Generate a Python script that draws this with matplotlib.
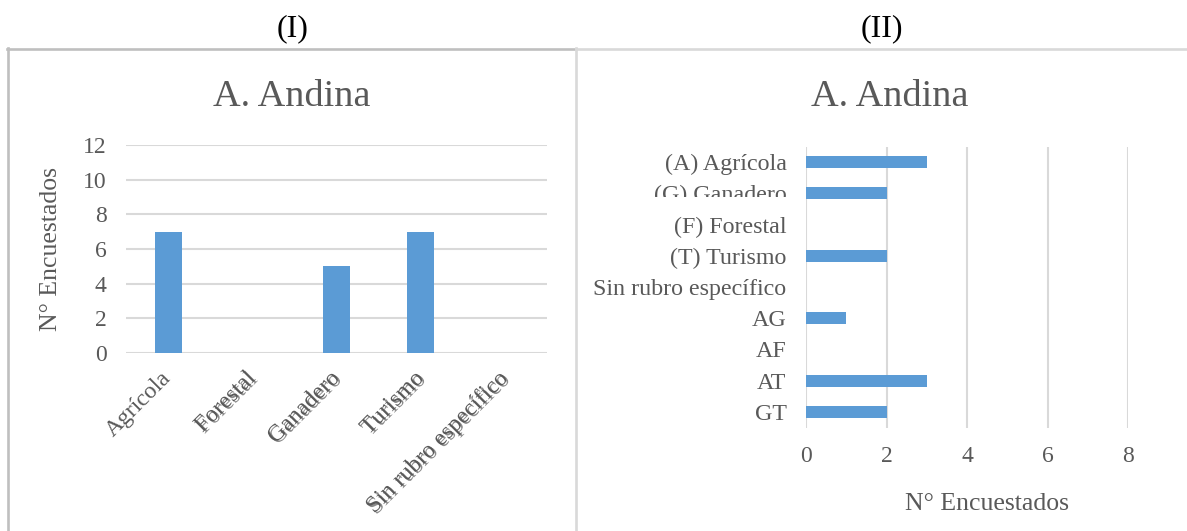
import matplotlib
matplotlib.use("Agg")
import matplotlib.pyplot as plt
from matplotlib.lines import Line2D
from matplotlib.transforms import Bbox, TransformedBbox
import matplotlib.patheffects as pe

plt.rcParams['font.family'] = ['Liberation Serif', 'DejaVu Serif']

# ---- data ----
left_categories = ["Agrícola", "Forestal", "Ganadero", "Turismo", "Sin rubro específico"]
left_values = [7, 0, 5, 7, 0]
left_yticks = [0, 2, 4, 6, 8, 10, 12]

right_categories = ["(A) Agrícola", "(G) Ganadero", "(F) Forestal", "(T) Turismo",
                    "Sin rubro específico", "AG", "AF", "AT", "GT"]
right_values = [3, 2, 0, 2, 0, 1, 0, 3, 2]
right_xticks = [0, 2, 4, 6, 8]

panel_titles = ["(I)", "(II)"]
chart_title = "A. Andina"
axis_label = "N° Encuestados"

BAR = "#5B9BD5"
GRID = "#D9D9D9"
TXT = "#595959"

W, H = 1187, 531
fig = plt.figure(figsize=(W / 100, H / 100), dpi=100)
fig.patch.set_facecolor("white")

def fx(px):
    return px / W

def fy(py):
    return 1 - py / H

# ---- panel borders ----
fig.add_artist(Line2D([fx(7.5), fx(7.5)], [fy(48), fy(531)], color="#BFBFBF", lw=1.9))
fig.add_artist(Line2D([fx(7), fx(576)], [fy(48.5), fy(48.5)], color="#BFBFBF", lw=1.9))
fig.add_artist(Line2D([fx(576), fx(576)], [fy(48), fy(531)], color=GRID, lw=1.9))
fig.add_artist(Line2D([fx(576), fx(1186)], [fy(48.5), fy(48.5)], color=GRID, lw=1.9))

# ---- headers ----
fig.text(fx(293), fy(29), panel_titles[0], ha="center", va="center", fontsize=23, color="black")
fig.text(fx(882), fy(29), panel_titles[1], ha="center", va="center", fontsize=23, color="black")
fig.text(fx(292), fy(97), chart_title, ha="center", va="center", fontsize=27.5, color=TXT)
fig.text(fx(890), fy(97), chart_title, ha="center", va="center", fontsize=27.5, color=TXT)

# ---- left chart ----
axL = fig.add_axes([fx(126), fy(353), fx(547) - fx(126), fy(145) - fy(353)])
xpos = list(range(len(left_categories)))
axL.bar(xpos, left_values, width=0.32, color=BAR, zorder=3)
axL.set_xlim(-0.5, len(left_categories) - 0.5)
axL.set_ylim(0, 12)
axL.set_yticks(left_yticks)
axL.yaxis.grid(True, color=GRID, lw=1.5, zorder=0)
axL.set_axisbelow(True)
for s in axL.spines.values():
    s.set_visible(False)
axL.tick_params(axis="y", length=0, colors=TXT, labelsize=17, pad=14)
axL.set_xticks(xpos)
axL.set_xticklabels(left_categories, rotation=45, ha="right", va="center",
                    rotation_mode="anchor")
axL.tick_params(axis="x", length=0, colors=TXT, labelsize=17, pad=16)
for i, lbl in enumerate(axL.get_xticklabels()):
    lbl.set_color(TXT)
    if i > 0:
        lbl.set_path_effects([pe.withSimplePatchShadow(offset=(1.5, -1.0),
                                                       shadow_rgbFace="#666666", alpha=0.75)])
axL.set_ylabel(axis_label, fontsize=18.5, color=TXT)
axL.yaxis.set_label_coords(-(126 - 62) / 421, 0.5)

# ---- right chart ----
axR = fig.add_axes([fx(806), fy(427.5), fx(1128) - fx(806), fy(146.5) - fy(427.5)])
ypos = list(range(len(right_categories)))
axR.barh(ypos, right_values, height=0.38, color=BAR, zorder=3)
axR.set_ylim(len(right_categories) - 0.5, -0.5)
axR.set_xlim(0, 8)
axR.set_xticks(right_xticks)
axR.set_yticks(ypos)
axR.set_yticklabels(right_categories)
axR.xaxis.grid(True, color=GRID, lw=1.5, zorder=0)
axR.set_axisbelow(True)
for s in axR.spines.values():
    s.set_visible(False)
axR.tick_params(axis="y", length=0, colors=TXT, labelsize=17.3, pad=14)
axR.tick_params(axis="x", length=0, colors=TXT, labelsize=17, pad=13)
axR.set_xlabel(axis_label, fontsize=18.5, color=TXT)
axR.xaxis.set_label_coords((987 - 806) / 322, -(493 - 427.5) / 281)

# clipped "(G) Ganadero" label as in the reference
g_lbl = axR.get_yticklabels()[1]
g_lbl.set_clip_box(TransformedBbox(Bbox([[0, fy(197)], [1, 1]]), fig.transFigure))
g_lbl.set_clip_on(True)

fig.savefig("out.png", dpi=100, facecolor="white")
